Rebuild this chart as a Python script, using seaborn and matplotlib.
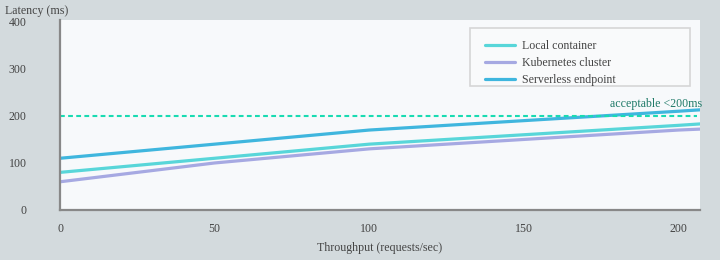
import matplotlib
matplotlib.use("Agg")
import matplotlib.pyplot as plt
import matplotlib.patches as mpatches
import seaborn as sns
import pandas as pd

throughput = [0, 50, 100, 150, 200, 207]
local_container = [80, 110, 140, 160, 180, 183]
kubernetes_cluster = [60, 100, 130, 150, 170, 172]
serverless_endpoint = [110, 140, 170, 190, 210, 213]
series_names = ["Local container", "Kubernetes cluster", "Serverless endpoint"]
colors = ["#58d6d9", "#a6a9e2", "#3fb6de"]
threshold = 200
x_ticks = [0, 50, 100, 150, 200]
y_ticks = [0, 100, 200, 300, 400]

rows = []
for name, vals in zip(series_names, [local_container, kubernetes_cluster, serverless_endpoint]):
    for x, v in zip(throughput, vals):
        rows.append({"Throughput": x, "Latency": v, "Series": name})
df = pd.DataFrame(rows)

sns.set_theme(style="white")
plt.rcParams["font.family"] = ["Liberation Serif", "DejaVu Serif"]
FS = 8.6

fig = plt.figure(figsize=(7.2, 2.6), dpi=100)
fig.patch.set_facecolor("#d3dadd")
ax = fig.add_axes([60/720, 50/260, 640/720, 190/260])
ax.set_facecolor("#f7f9fb")

sns.lineplot(data=df, x="Throughput", y="Latency", hue="Series", hue_order=series_names,
             palette=colors, linewidth=2.3, ax=ax)

ax.axhline(threshold, color="#19dbb2", linestyle=(0, (2.3, 1.6)), linewidth=1.5, xmax=0.995)
ax.annotate("acceptable <200ms", xy=(1.003, threshold), xycoords=("axes fraction", "data"),
            xytext=(0, 4), textcoords="offset points", color="#1f7a68", fontsize=FS,
            ha="right", va="bottom", annotation_clip=False)

ax.set_xlim(0, 207)
ax.set_ylim(0, 404)
ax.set_xticks(x_ticks)
ax.set_yticks(y_ticks)
ax.tick_params(axis="y", length=0, pad=24, labelsize=FS, labelcolor="#444444")
ax.tick_params(axis="x", length=0, pad=9.5, labelsize=FS, labelcolor="#444444")
for s in ["top", "right"]:
    ax.spines[s].set_visible(False)
for s in ["left", "bottom"]:
    ax.spines[s].set_color("#888888")
    ax.spines[s].set_linewidth(1.6)

ax.set_ylabel("")
ax.set_xlabel("Throughput (requests/sec)", fontsize=FS, color="#444444", labelpad=5)
fig.text(5/720, 1 - 11/260, "Latency (ms)", fontsize=FS, color="#444444", ha="left", va="center")

# legend box
box = mpatches.Rectangle(((470 - 60) / 640, (210 - 86) / 190), 220 / 640, 58 / 190,
                         transform=ax.transAxes, facecolor="#f9fafb", edgecolor="#d6d6d6",
                         linewidth=1.2, zorder=4)
ax.add_patch(box)

leg = ax.legend(loc="upper left",
                bbox_to_anchor=((485 - 60) / 640, (210 - 40) / 190),
                bbox_transform=ax.transAxes, fontsize=FS, frameon=False,
                borderpad=0, labelspacing=0.42, handlelength=2.51,
                handletextpad=0.59, borderaxespad=0)
leg.set_zorder(5)
for t in leg.get_texts():
    t.set_color("#444444")

fig.savefig("out.png", dpi=100, facecolor=fig.get_facecolor())
